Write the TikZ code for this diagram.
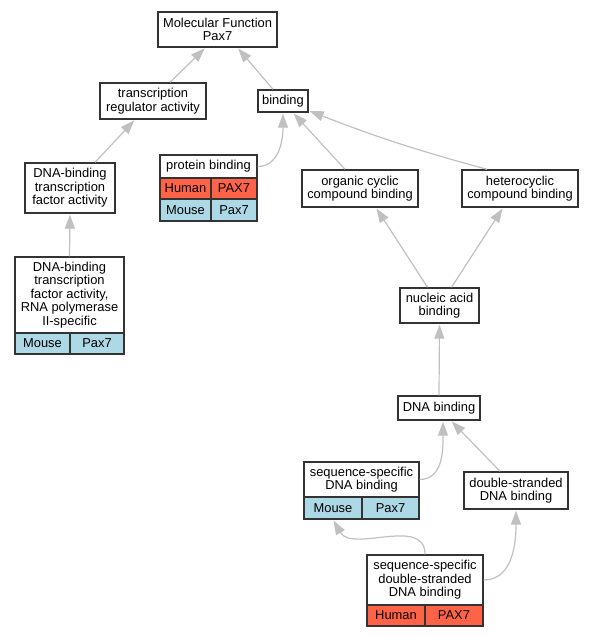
\documentclass[tikz,border=0pt]{standalone}
\usepackage{fontspec}
\setmainfont{Liberation Sans}
\usetikzlibrary{arrows.meta}
\definecolor{edgegray}{HTML}{C0C0C0}
\definecolor{human}{HTML}{FF6347}
\definecolor{mouse}{HTML}{ADD8E6}
\definecolor{border}{HTML}{333333}
\begin{document}
\begin{tikzpicture}[x=1pt,y=1pt,
 box/.style={draw=border,line width=1.4pt,fill=white,inner sep=0pt,align=center,font=\fontsize{12.9}{13.5}\selectfont},
 hum/.style={box,fill=human},
 mou/.style={box,fill=mouse},
 edge/.style={draw=edgegray,line width=1.2pt,-{Triangle[length=14pt,width=10pt]},shorten >=1pt}
]
\useasboundingbox (0,0) rectangle (593,-637);

\node[box,minimum width=119pt,minimum height=35pt] (mf) at (217.5,-29.5) {Molecular Function\\Pax7};
\node[box,minimum width=106pt,minimum height=36pt] (tra) at (153,-101) {transcription\\regulator activity};
\node[box,minimum width=50pt,minimum height=22pt] (bind) at (283,-101) {binding};
\node[box,minimum width=90pt,minimum height=50pt] (dtf) at (70,-188) {DNA-binding\\transcription\\factor activity};

\node[box,minimum width=97pt,minimum height=23pt] (pb) at (208.5,-166.5) {protein binding};
\node[hum,minimum width=51pt,minimum height=21pt] (pbh1) at (185.5,-188.5) {Human};
\node[hum,minimum width=46pt,minimum height=21pt] (pbh2) at (234,-188.5) {PAX7};
\node[mou,minimum width=51pt,minimum height=22pt] (pbm1) at (185.5,-210) {Mouse};
\node[mou,minimum width=46pt,minimum height=22pt] (pbm2) at (234,-210) {Pax7};

\node[box,minimum width=116pt,minimum height=37pt] (ocb) at (360,-188.5) {organic cyclic\\compound binding};
\node[box,minimum width=116pt,minimum height=37pt] (hcb) at (520,-188.5) {heterocyclic\\compound binding};

\node[box,minimum width=109pt,minimum height=76pt] (rna) at (69.5,-295) {DNA-binding\\transcription\\factor activity,\\RNA polymerase\\II-specific};
\node[mou,minimum width=55pt,minimum height=21pt] (rnam1) at (42.5,-343.5) {Mouse};
\node[mou,minimum width=54pt,minimum height=21pt] (rnam2) at (97,-343.5) {Pax7};

\node[box,minimum width=79pt,minimum height=35pt] (nab) at (439.5,-305.5) {nucleic acid\\binding};
\node[box,minimum width=82pt,minimum height=24pt] (dnab) at (439,-408) {DNA binding};

\node[box,minimum width=115pt,minimum height=35pt] (ssd) at (361.5,-479.5) {sequence-specific\\DNA binding};
\node[mou,minimum width=58pt,minimum height=22pt] (ssdm1) at (333,-508) {Mouse};
\node[mou,minimum width=57pt,minimum height=22pt] (ssdm2) at (390.5,-508) {Pax7};

\node[box,minimum width=104pt,minimum height=37pt] (dsd) at (516,-490.5) {double-stranded\\DNA binding};

\node[box,minimum width=116pt,minimum height=50pt] (ssds) at (425,-580) {sequence-specific\\double-stranded\\DNA binding};
\node[hum,minimum width=58pt,minimum height=21pt] (ssdsh1) at (396,-615.5) {Human};
\node[hum,minimum width=58pt,minimum height=21pt] (ssdsh2) at (454,-615.5) {PAX7};

\draw[edge] ([xshift=17pt]tra.north) -- ([xshift=-12pt]mf.south);
\draw[edge] ([xshift=-10pt]bind.north) -- ([xshift=20pt]mf.south);
\draw[edge] ([xshift=25pt]dtf.north) -- ([xshift=-18pt]tra.south);
\draw[edge] (rna.north) -- (dtf.south);
\draw[edge] (pb.east) to[out=0,in=-90] (bind.south);
\draw[edge] ([xshift=-15pt]ocb.north) -- ([xshift=10pt]bind.south);
\draw[edge] ([xshift=-33pt]hcb.north) to[bend left=3] ([yshift=2pt]bind.south east);
\draw[edge] ([xshift=-12pt]nab.north) -- ([xshift=16pt]ocb.south);
\draw[edge] ([xshift=12pt]nab.north) -- ([xshift=-17pt]hcb.south);
\draw[edge] (dnab.north) -- (nab.south);
\draw[edge] (ssd.east) to[out=0,in=-90] ([xshift=4pt]dnab.south);
\draw[edge] ([xshift=-16pt]dsd.north) -- ([xshift=12pt]dnab.south);
\draw[edge] (ssds.north) to[out=90,in=-60] (ssdm1.south);
\draw[edge] (ssds.east) to[out=0,in=-90] (dsd.south);
\end{tikzpicture}
\end{document}
